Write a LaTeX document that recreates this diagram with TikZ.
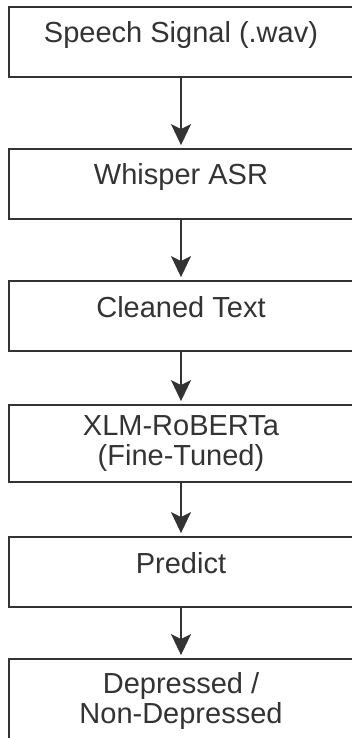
\documentclass[tikz,border=0pt]{standalone}
\usepackage{fontspec}
\setmainfont{Liberation Sans}
\usepackage{xcolor}
\usepackage{tikz}
\usetikzlibrary{positioning,arrows.meta}
\definecolor{cline}{RGB}{51,51,51}

\begin{document}
\begin{tikzpicture}[x=1pt, y=-1pt,
  blk/.style={draw=cline, line width=1.8pt, text=cline, align=center, inner sep=0pt,
              minimum width=344.6pt, minimum height=70pt,
              font=\fontsize{29pt}{30pt}\selectfont},
  blk1/.style={blk, text height=2pt, text depth=0pt},
  ar/.style={-{Stealth[length=21pt, width=20pt, inset=5pt]}, draw=cline, line width=1.8pt,
             shorten >=3pt}]
\useasboundingbox (0,0) rectangle (351,738);
\node[blk1] (wav)  at (181,42)    {Speech Signal (.wav)};
\node[blk1] (asr)  at (181,184)   {Whisper ASR};
\node[blk1] (txt)  at (181,316)   {Cleaned Text};
\node[blk, minimum height=77pt] (xlmr) at (181,443.5) {XLM-RoBERTa\\(Fine-Tuned)};
\node[blk1] (pred) at (181,572)   {Predict};
\node[blk, minimum height=84pt] (out)  at (181,701)   {Depressed /\\Non-Depressed};
\draw[ar] (wav) -- (asr);
\draw[ar] (asr) -- (txt);
\draw[ar] (txt) -- (xlmr);
\draw[ar] (xlmr) -- (pred);
\draw[ar] (pred) -- (out);
\end{tikzpicture}
\end{document}
